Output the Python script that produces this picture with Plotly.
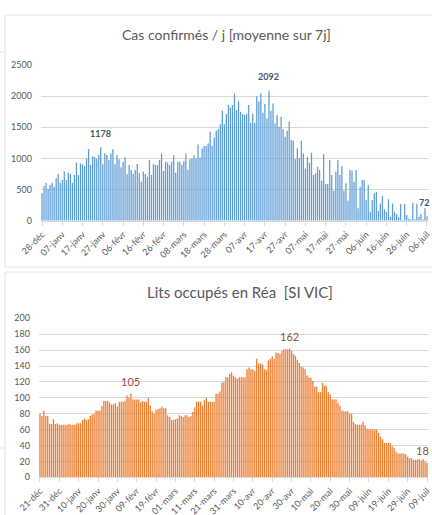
import plotly.graph_objects as go
import pandas as pd

# ---------------- data ----------------
cas_start = "2020-12-28"
cas_values = [
    440, 557, 610, 510, 575, 610, 546, 680, 750, 610,
    655, 790, 655, 770, 750, 610, 735, 930, 735, 920,
    905, 880, 1000, 1150, 895, 1035, 1020, 990, 1060, 1178,
    905, 1085, 1055, 975, 1080, 1146, 905, 1055, 985, 857,
    948, 1020, 745, 895, 814, 750, 815, 910, 760, 627,
    787, 750, 707,
    975, 733, 905, 900, 890, 975, 1080, 800, 947, 930,
    893, 947, 1050, 770, 947, 947, 893, 958, 1080, 824,
    985, 1000, 1050, 1000, 1225, 1011, 1160, 1198, 1198, 1241,
    1428, 1198, 1337, 1444, 1471, 1550, 1765, 1550, 1712, 1856,
    1819, 1856, 2043, 1776, 1915, 1749, 1712, 1696, 1712, 1856,
    1573, 1723, 1573, 2000, 1915, 2043, 1733, 1872, 1642, 2092,
    1765, 1883, 1562, 1696, 1508,
    1670, 1467, 1349, 1445, 1590, 1295, 1285, 985, 1162, 1001,
    1285, 1081, 840, 1028, 931, 1092, 733, 760, 867, 814,
    642, 1065, 589, 589, 974, 733, 482, 787, 974, 733,
    878, 482, 600, 321, 814, 803, 626, 814, 198, 546,
    653, 653, 332, 573, 144, 332, 439, 466, 160, 278,
    396, 182, 144, 343, 64, 278, 144, 107, 54, 268,
    11, 268, 91, 37, 21, 289, 21, 268, 64, 107,
    21, 198, 72,
]
cas_ticks = ["28-déc", "07-janv", "17-janv", "27-janv", "06-févr", "16-févr",
             "26-févr", "08-mars", "18-mars", "28-mars", "07-avr", "17-avr",
             "27-avr", "07-mai", "17-mai", "27-mai", "06-juin", "16-juin",
             "26-juin", "06-juil"]

rea_start = "2020-12-21"
rea_values = [
    80, 77, 84, 77, 77, 67, 67, 73, 67, 68,
    66, 66, 66, 66, 66, 67, 66, 66, 66, 68, 68,
    68, 72, 74, 72, 73, 77, 79, 80, 84, 84,
    84, 90, 96, 96, 96, 94, 92, 92, 93, 89,
    95, 95, 95, 96, 103, 100, 105, 98, 98, 98, 98,
    94, 96, 95, 95, 100, 90, 83, 80, 85, 86,
    87, 89, 87, 87, 78, 76, 72, 72, 73, 74,
    78, 77, 76, 78, 78, 76, 77, 82, 88, 95,
    95, 95, 90, 97, 100, 95, 95, 95, 95,
    105, 105, 108, 119, 120, 126, 126, 130, 132, 128,
    126, 124, 126, 126, 126, 126, 136, 138, 136, 136, 134,
    149, 143, 143, 142, 136, 135, 147, 149, 152, 149,
    157, 156, 155, 159, 161, 161, 161, 162, 159, 155,
    153, 148, 144, 139, 138, 136, 128, 126, 125, 121,
    114, 114, 107, 107, 119, 115, 115, 107, 104, 98,
    98, 98, 93, 90, 84, 83, 83, 83, 80, 80,
    70, 67, 66, 66, 66, 70, 65, 61, 60, 60,
    60, 60, 60, 56, 51, 48, 43, 43, 43, 43, 39, 37,
    32, 30, 30, 30, 30, 29, 26, 24, 24, 22, 22,
    22, 23, 21, 23, 20, 18,
]
rea_ticks = ["21-déc", "31-déc", "10-janv", "20-janv", "30-janv", "09-févr",
             "19-févr", "01-mars", "11-mars", "21-mars", "31-mars", "10-avr",
             "20-avr", "30-avr", "10-mai", "20-mai", "30-mai", "09-juin",
             "19-juin", "29-juin", "09-juil"]

cas_title = "Cas confirmés / j [moyenne sur 7j]"
rea_title = "Lits occupés en Réa  [SI VIC]"

# ---------------- helpers ----------------
cas_dates = pd.date_range(cas_start, periods=len(cas_values), freq="D")
rea_dates = pd.date_range(rea_start, periods=len(rea_values), freq="D")
half = pd.Timedelta(hours=12)

W, H = 432, 515
def fx(p):
    return p / W
def fy(p):
    return 1 - p / H

FONT = "Lato, 'Open Sans', sans-serif"
GREY = "#595959"
GRID = "#D9D9D9"
BLUE = "rgba(91,155,213,0.99)"
ORANGE = "rgba(237,125,49,0.99)"
BLUE_LBL = "#44546A"
ORANGE_LBL = "#8C5533"

fig = go.Figure()
fig.add_trace(go.Bar(
    x=cas_dates, y=cas_values, width=0.62 * 86400000,
    marker=dict(color=BLUE, line=dict(width=0)),
    xaxis="x", yaxis="y", hoverinfo="x+y",
))
fig.add_trace(go.Bar(
    x=rea_dates, y=rea_values, width=0.68 * 86400000,
    marker=dict(color=ORANGE, line=dict(width=0)),
    xaxis="x2", yaxis="y2", hoverinfo="x+y",
))

xcommon = dict(
    type="date", tickmode="array", tickangle=-45, automargin=False,
    ticklabeloverflow="allow",
    tickfont=dict(family=FONT, size=9, color=GREY),
    ticks="outside", ticklen=4, tickcolor=GRID,
    showline=True, linecolor=GRID, linewidth=1,
    showgrid=False, zeroline=False, fixedrange=True,
)
ycommon = dict(
    automargin=False,
    tickfont=dict(family=FONT, size=9, color=GREY),
    showgrid=True, gridcolor=GRID, gridwidth=1,
    showline=False, zeroline=False, ticks="", ticklabelstandoff=8,
    fixedrange=True,
)

fig.update_layout(
    template="none",
    width=W, height=H, autosize=False,
    margin=dict(l=0, r=0, t=0, b=0, pad=0),
    paper_bgcolor="white", plot_bgcolor="white",
    showlegend=False, bargap=0.2,
    font=dict(family=FONT, color=GREY),
    xaxis=dict(xcommon, domain=[fx(41), fx(428)], anchor="y",
               range=[cas_dates[0] - half, cas_dates[-1] + half],
               tickvals=list(cas_dates[::10]), ticktext=cas_ticks),
    yaxis=dict(ycommon, domain=[fy(220.7), fy(65)], anchor="x",
               range=[0, 2500], dtick=500),
    xaxis2=dict(xcommon, domain=[fx(39), fx(428)], anchor="y2",
                range=[rea_dates[0] - half, rea_dates[-1] + half],
                tickvals=list(rea_dates[::10]), ticktext=rea_ticks),
    yaxis2=dict(ycommon, domain=[fy(477.3), fy(318.3)], anchor="x2",
                range=[0, 200], dtick=20),
)

# panel frames (paper coordinates)
frames = [
    dict(type="rect", x0=fx(5), x1=fx(445), y0=fy(267), y1=fy(15)),
    dict(type="rect", x0=fx(5), x1=fx(445), y0=fy(530), y1=fy(272)),
    dict(type="line", x0=fx(-2), x1=fx(5), y0=fy(52), y1=fy(52)),
    dict(type="line", x0=fx(-2), x1=fx(5), y0=fy(448), y1=fy(448)),
]
for f in frames:
    fig.add_shape(xref="paper", yref="paper", line=dict(color="#E3E3E3", width=1),
                  fillcolor="rgba(0,0,0,0)", layer="below", **f)

# chart titles
fig.add_annotation(xref="paper", yref="paper", x=fx(226.5), y=fy(35),
                   text=cas_title, showarrow=False, xanchor="center", yanchor="middle",
                   font=dict(family=FONT, size=14, color=GREY))
fig.add_annotation(xref="paper", yref="paper", x=fx(240.5), y=fy(292),
                   text=rea_title, showarrow=False, xanchor="center", yanchor="middle",
                   font=dict(family=FONT, size=15, color=GREY))

# data labels (first-wave max, overall max, last value)
def label(xref, yref, dates, values, idx, color, size, bold, shift, xshift=0):
    v = values[idx]
    txt = f"<b>{v}</b>" if bold else f"{v}"
    fig.add_annotation(xref=xref, yref=yref, x=dates[idx], y=v, text=txt,
                       showarrow=False, xanchor="center", yanchor="bottom",
                       yshift=shift, xshift=xshift,
                       font=dict(family=FONT, size=size, color=color))

early_cas = max(range(60), key=lambda i: cas_values[i])
peak_cas = max(range(len(cas_values)), key=lambda i: cas_values[i])
label("x", "y", cas_dates, cas_values, early_cas, BLUE_LBL, 9, True, 6)
label("x", "y", cas_dates, cas_values, peak_cas, BLUE_LBL, 9, True, 6)
label("x", "y", cas_dates, cas_values, len(cas_values) - 1, BLUE_LBL, 9, True, 6, -3)

early_rea = max(range(80), key=lambda i: rea_values[i])
peak_rea = max(range(len(rea_values)), key=lambda i: rea_values[i])
label("x2", "y2", rea_dates, rea_values, early_rea, ORANGE_LBL, 11, False, 4)
label("x2", "y2", rea_dates, rea_values, peak_rea, ORANGE_LBL, 11, False, 4)
label("x2", "y2", rea_dates, rea_values, len(rea_values) - 1, ORANGE_LBL, 11, False, 4, -5)

fig.write_html("out.html", post_script="document.body.style.margin='0';",
               config={"displayModeBar": False})
